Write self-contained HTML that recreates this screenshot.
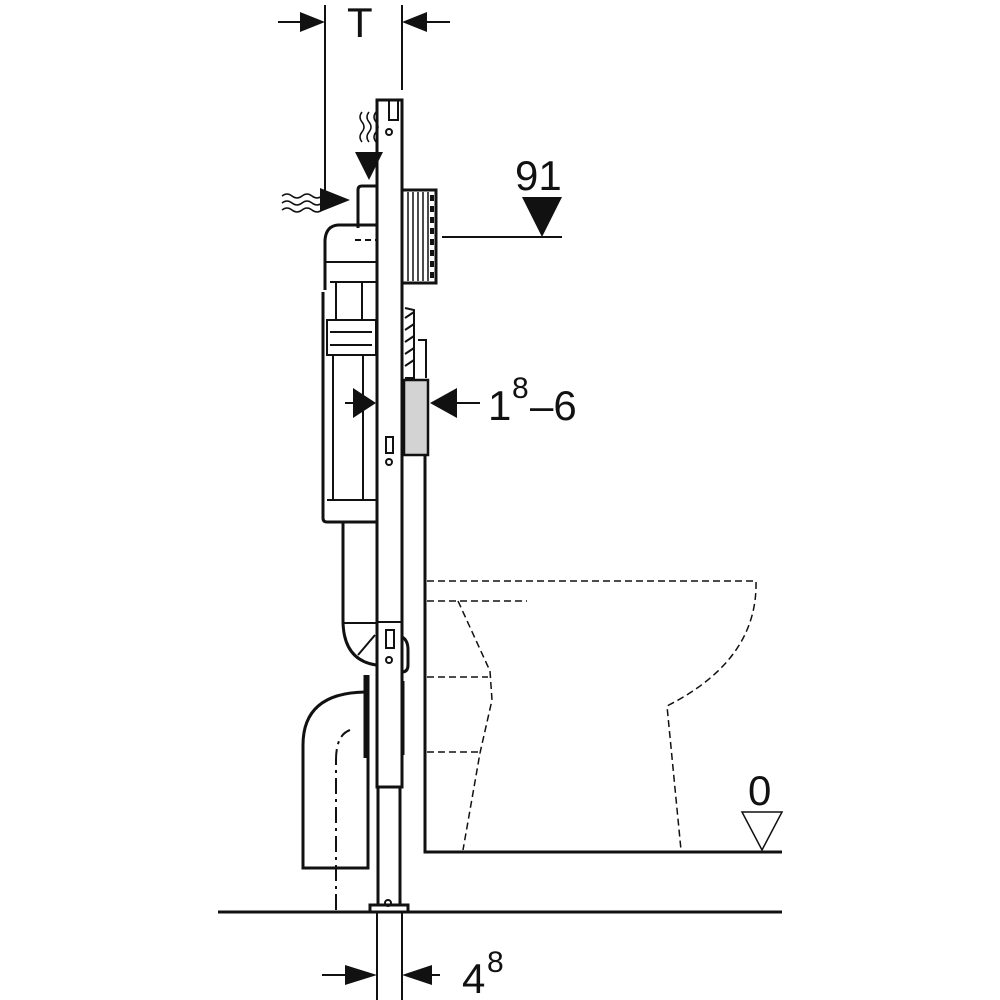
<!DOCTYPE html>
<html><head><style>body{margin:0;background:#fff}svg{display:block}</style></head><body>
<svg width="1000" height="1000" viewBox="0 0 1000 1000" xmlns="http://www.w3.org/2000/svg" font-family="Liberation Sans, sans-serif">
<g stroke="#111" fill="none" stroke-width="2">
<line x1="325" y1="5" x2="325" y2="192"/>
<line x1="402" y1="5" x2="402" y2="90"/>
<line x1="278" y1="22" x2="300" y2="22"/>
<line x1="427" y1="22" x2="450" y2="22"/>
<path d="M377 100 H402 V787 H377 Z" stroke-width="3"/>
<path d="M389 100 V120 H398 V100" stroke-width="2"/>
<circle cx="389" cy="132" r="3"/>
<rect x="386" y="437" width="7" height="16"/>
<circle cx="389" cy="462" r="3"/>
<path d="M377 622 H402"/>
<rect x="386" y="630" width="8" height="18"/>
<circle cx="389" cy="660" r="3"/>
<path d="M402 637 Q408 640 408 650 V665 Q408 672 402 672" stroke-width="3"/>
<path d="M378 787 V905 M400 787 V905" stroke-width="3"/>
<path d="M370 912 V905 H408 V912" stroke-width="3"/>
<circle cx="388" cy="903" r="3"/>
<path d="M358 228 V190 Q358 186 362 186 H376" stroke-width="3"/>
<path d="M376 225 H338 Q326 226 325 240 V290" stroke-width="3"/>
<path d="M323 292 V518 Q323 522 327 522 H376" stroke-width="3"/>
<path d="M326 262 H376 M330 282 H376 M330 320 H376 M336 282 V320 M362 282 V320"/>
<path d="M327 320 H376 V355 H327 Z" stroke-width="2"/>
<path d="M330 332 H372 M330 345 H372"/>
<path d="M333 355 V500 M363 355 V500 M327 500 H376"/>
<path d="M355 240 H376" stroke-dasharray="6 4"/>
<path d="M343 522 V620 Q343 660 376 665" stroke-width="3"/>
<path d="M343 623 H377 M358 655 L375 635"/>
<path d="M368 675 V868 H303 V745 Q303 693 365 692" stroke-width="3"/>
<path d="M365 675 V758" stroke-width="3"/>
<path d="M403 681 V755" stroke-width="3"/>
<path d="M336 910 V760 Q336 735 350 730" stroke-dasharray="16 5 3 5"/>
<path d="M403 190 H436 V283 H403" stroke-width="3"/>
<path d="M408 192 V281 M413 192 V281 M418 192 V281 M423 192 V281 M428 192 V281" stroke-width="1.5"/>
<path d="M432 195 V280" stroke-width="4" stroke-dasharray="6 5"/>
<line x1="442" y1="237" x2="562" y2="237"/>
<path d="M405 308 L414 310 V378 H405" stroke-width="2"/>
<path d="M405 318 L414 312 M405 330 L414 324 M405 342 L414 336 M405 354 L414 348 M405 366 L414 360"/>
<path d="M418 340 H426 V378" stroke-width="2"/>
<rect x="404" y="380" width="24" height="75" fill="#d3d3d3" stroke-width="2.5"/>
<path d="M425 455 V852 H782" stroke-width="3"/>
<line x1="345" y1="403" x2="355" y2="403"/>
<line x1="455" y1="403" x2="480" y2="403"/>
<line x1="218" y1="912" x2="782" y2="912" stroke-width="3"/>
<line x1="377" y1="912" x2="377" y2="1000"/>
<line x1="402" y1="912" x2="402" y2="1000"/>
<line x1="322" y1="975" x2="345" y2="975"/>
<line x1="432" y1="975" x2="440" y2="975"/>
<g stroke-width="1.5" stroke-dasharray="7 4">
<path d="M427 581 H756 Q758 660 667 706 L681 850"/>
<path d="M427 601 H527"/>
<path d="M458 601 L490 671 L492 700 L480 753 L463 850"/>
<path d="M427 677 H488 M427 752 H480"/>
</g>
<path d="M282 196 q5 -4 10 0 t10 0 t10 0 t10 0 M282 203 q5 -4 10 0 t10 0 t10 0 t10 0 M282 210 q5 -4 10 0 t10 0 t10 0 t10 0" stroke-width="1.5"/>
<path d="M362 112 q-4 5 0 10 t0 10 t0 10 M369 112 q-4 5 0 10 t0 10 t0 10 M376 112 q-4 5 0 10 t0 10 t0 10" stroke-width="1.5"/>
<path d="M742 812 H782 L762 850 Z" stroke-width="1.5"/>
</g>
<g fill="#111">
<path d="M300 12 L325 22 L300 32 Z"/>
<path d="M427 12 L402 22 L427 32 Z"/>
<path d="M522 197 H562 L542 237 Z"/>
<path d="M320 188 L350 200 L320 212 Z"/>
<path d="M355 152 L383 152 L369 180 Z"/>
<path d="M353 388 L376 403 L353 418 Z"/>
<path d="M457 388 L430 403 L457 418 Z"/>
<path d="M345 965 L377 975 L345 985 Z"/>
<path d="M432 965 L402 975 L432 985 Z"/>
</g>
<g fill="#111" font-size="42">
<text x="347" y="37">T</text>
<text x="515" y="190">91</text>
<text x="488" y="420">1</text><text x="512" y="398" font-size="30">8</text><text x="530" y="420">–6</text>
<text x="748" y="805">0</text>
<text x="462" y="993">4</text><text x="487" y="972" font-size="30">8</text>
</g>
</svg>
</body></html>
